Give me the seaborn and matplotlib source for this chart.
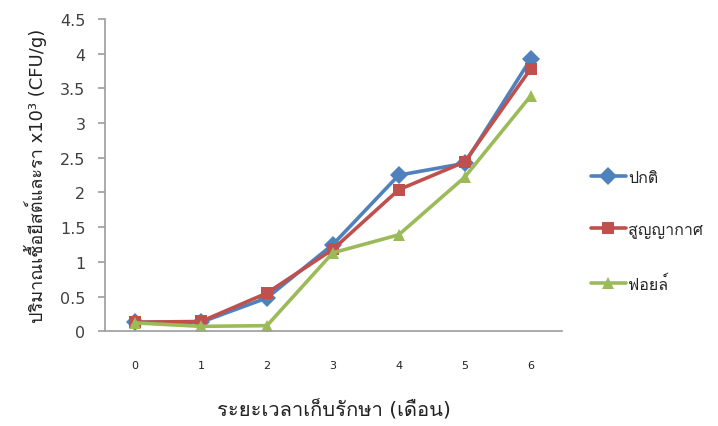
import numpy as np
import pandas as pd
import matplotlib
matplotlib.use("Agg")
import matplotlib.pyplot as plt
import seaborn as sns
from matplotlib import font_manager
from matplotlib.ft2font import FT2Font
from matplotlib.lines import Line2D

months = [0, 1, 2, 3, 4, 5, 6]
series_names = ["ปกติ", "สูญญากาศ", "ฟอยล์"]
normal = [0.13, 0.13, 0.48, 1.25, 2.25, 2.42, 3.92]
vacuum = [0.13, 0.14, 0.55, 1.18, 2.04, 2.44, 3.78]
foil = [0.12, 0.07, 0.08, 1.13, 1.39, 2.22, 3.39]
y_ticks = [0, 0.5, 1, 1.5, 2, 2.5, 3, 3.5, 4, 4.5]
y_tick_labels = ["0", "0.5", "1", "1.5", "2", "2.5", "3", "3.5", "4", "4.5"]
x_label = "ระยะเวลาเก็บรักษา (เดือน)"
y_label = "ปริมาณเชื้อยีสต์และรา x10\u00b3 (CFU/g)"

colors = ["#4F81BD", "#C0504D", "#9BBB59"]
markers = ["D", "s", "^"]

# find a font with Thai glyphs
thai = None
for f in font_manager.fontManager.ttflist:
    try:
        if 0x0E01 in FT2Font(f.fname).get_charmap():
            thai = f.name
            break
    except Exception:
        pass

sns.set_theme(style="white")
fams = ["DejaVu Sans"] + ([thai] if thai else [])
plt.rcParams["font.family"] = fams

df = pd.DataFrame({
    "month": months * 3,
    "value": normal + vacuum + foil,
    "series": [series_names[0]] * 7 + [series_names[1]] * 7 + [series_names[2]] * 7,
})

fig = plt.figure(figsize=(7.18, 4.27), dpi=100)
ax = fig.add_axes([0.146, 0.222, 0.637, 0.731])
sns.lineplot(data=df, x="month", y="value", hue="series", style="series",
             palette=colors, markers=markers, dashes=False, linewidth=2.6,
             markersize=9, markeredgewidth=0, ax=ax, legend=False)

ax.set_xlim(-0.46, 6.48)
ax.set_ylim(0, 4.5)
ax.set_yticks(y_ticks)
ax.set_yticklabels(y_tick_labels)
ax.set_xticks(months)
ax.set_xticklabels([str(m) for m in months])
for s in ["top", "right"]:
    ax.spines[s].set_visible(False)
ax.spines["left"].set_color("#A0A0A0")
ax.spines["bottom"].set_color("#A0A0A0")
ax.tick_params(axis="y", left=True, length=5, color="#A0A0A0", labelsize=11.5,
               labelcolor="#404040", pad=9)
ax.tick_params(axis="x", bottom=False, labelsize=8, labelcolor="#222222", pad=15)
ax.set_xlabel(x_label, fontsize=14.5, labelpad=21, color="#222222")
ax.set_ylabel(y_label, fontsize=13, labelpad=9, color="#222222")

handles = [Line2D([], [], color=c, marker=m, lw=2.6, markersize=9, markeredgewidth=0)
           for c, m in zip(colors, markers)]
fig.legend(handles, series_names, loc="center left", bbox_to_anchor=(0.803, 0.457),
           frameon=False, fontsize=11.5, labelspacing=2.3, handlelength=2.2,
           handletextpad=0.15)

fig.savefig("out.png", dpi=100)
